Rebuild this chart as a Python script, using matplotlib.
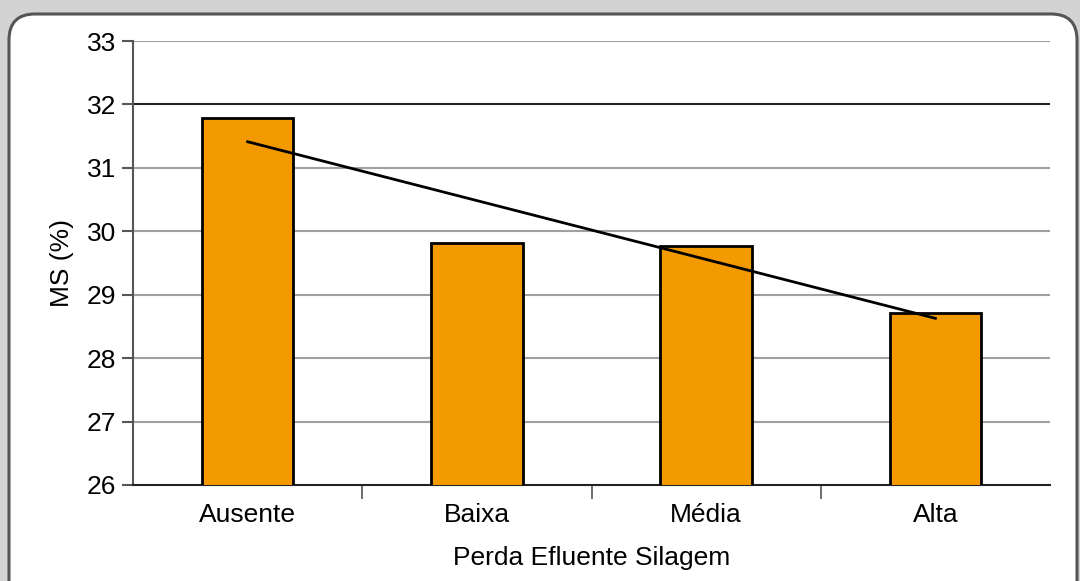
import numpy as np
import matplotlib.pyplot as plt
from matplotlib.patches import FancyBboxPatch

plt.rcParams['font.family'] = ['Liberation Sans', 'DejaVu Sans']

categorias = ["Ausente", "Baixa", "Média", "Alta"]
ms = [31.79, 29.81, 29.77, 28.71]

fig = plt.figure(figsize=(10.8, 5.81), dpi=100)
fig.patch.set_facecolor("#d3d3d3")

# painel branco com cantos arredondados
painel = FancyBboxPatch((9 / 1080, -0.2), 1068 / 1080, 1.2 - 14 / 581,
                        boxstyle="round,pad=0,rounding_size=0.024",
                        transform=fig.transFigure, facecolor="white",
                        edgecolor="#555555", linewidth=2.2, zorder=-5,
                        mutation_aspect=1080 / 581)
fig.patches.append(painel)

ax = fig.add_axes([133 / 1080, 1 - 485 / 581, 917 / 1080, 444 / 581])
ax.set_facecolor("none")
ax.set_zorder(2)

x = np.arange(len(categorias))
ax.bar(x, ms, width=0.4, color="#f39a00", edgecolor="black", linewidth=2,
       zorder=3)

# linha de tendência linear
coef = np.polyfit(x, ms, 1)
ax.plot(x, np.polyval(coef, x), color="black", linewidth=2, zorder=4)

ax.set_xlim(-0.5, 3.5)
ax.set_ylim(26, 33)
ax.set_yticks(range(26, 34))
ax.set_xticks(x)
ax.set_xticklabels(categorias)
ax.set_xticks([0.5, 1.5, 2.5], minor=True)

for v in range(27, 34):
    cor = "#222222" if v == 32 else "#a0a0a0"
    ax.axhline(v, color=cor, linewidth=1.5, zorder=1)

for lado in ["top", "right"]:
    ax.spines[lado].set_visible(False)
ax.spines["left"].set_color("#555555")
ax.spines["bottom"].set_color("#222222")
ax.spines["left"].set_linewidth(1.5)
ax.spines["bottom"].set_linewidth(1.5)

fs = 19
ax.tick_params(axis="y", direction="out", length=8, width=1.5,
               color="#555555", labelsize=fs, pad=4)
ax.tick_params(axis="x", which="major", length=0, labelsize=fs, pad=13)
ax.tick_params(axis="x", which="minor", direction="out", length=10,
               width=1.2, color="#555555")

ax.set_ylabel("MS (%)", fontsize=fs, labelpad=9)
ax.set_xlabel("Perda Efluente Silagem", fontsize=fs, labelpad=14)

fig.savefig("out.png", dpi=100, facecolor=fig.get_facecolor())
